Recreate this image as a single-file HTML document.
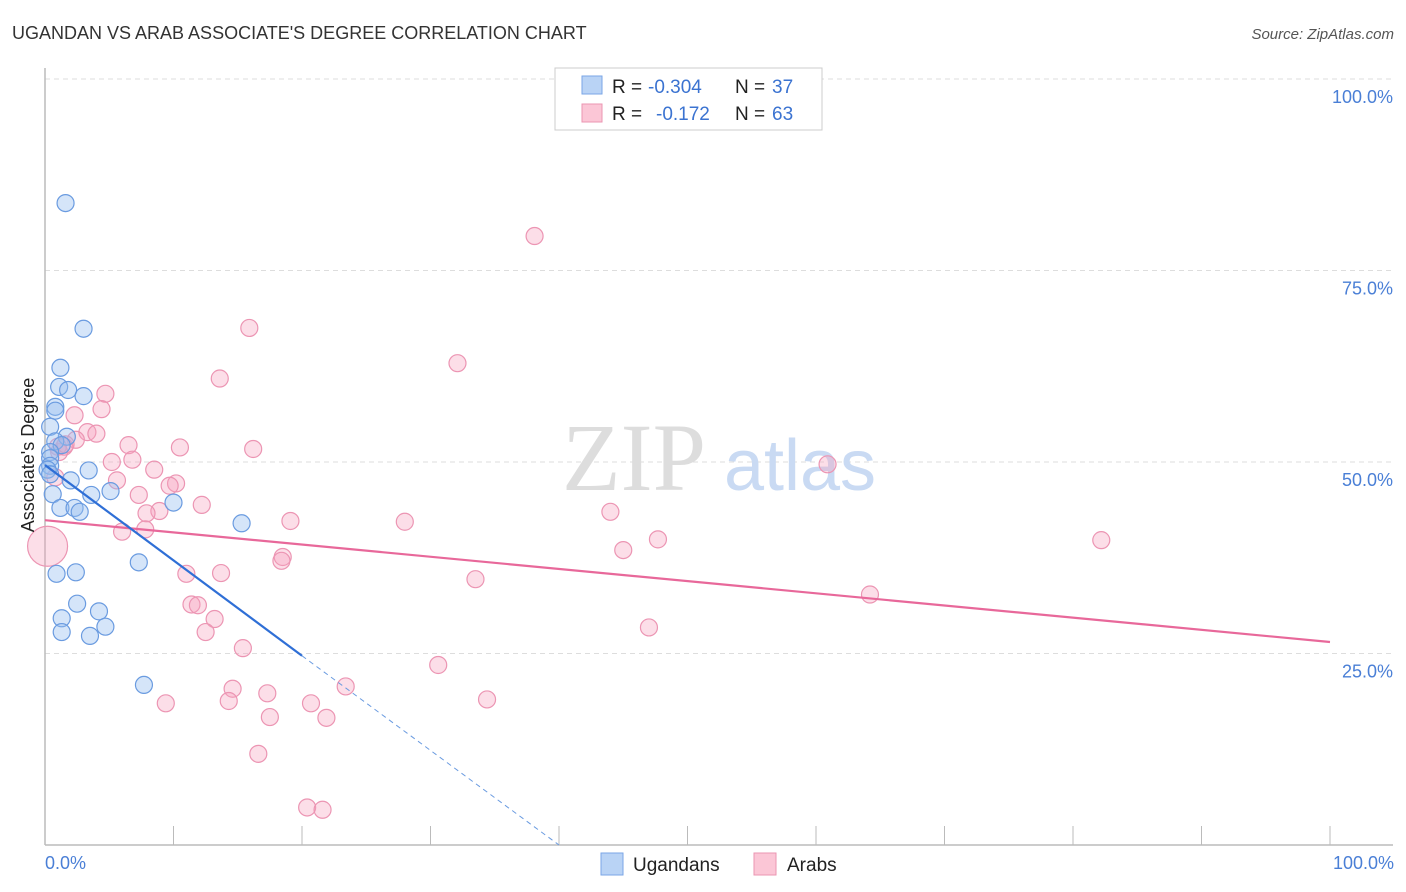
<!DOCTYPE html>
<html><head><meta charset="utf-8"><style>
body{margin:0;background:#fff;font-family:"Liberation Sans",sans-serif;}
svg{display:block}
</style></head><body>
<svg id="chart" width="1406" height="892">
<text x="12" y="39" font-size="18" fill="#333">UGANDAN VS ARAB ASSOCIATE'S DEGREE CORRELATION CHART</text>
<text x="1394" y="39" font-size="15" fill="#555" text-anchor="end" font-style="italic">Source: ZipAtlas.com</text>
<g id="grid"></g>
<text x="634" y="490" font-size="96" fill="#ddd" font-family="Liberation Serif,serif" text-anchor="middle">ZIP</text>
<text x="800" y="490" font-size="72" fill="#c9daf3" text-anchor="middle">atlas</text>
<g id="pts"></g>
<g id="lines"></g>
<text transform="translate(34,455) rotate(-90)" font-size="18" fill="#222" text-anchor="middle">Associate's Degree</text>
<text x="45" y="869" font-size="18" fill="#4a7fd6">0.0%</text>
<text x="1394" y="869" font-size="18" fill="#4a7fd6" text-anchor="end">100.0%</text>
<g>
<rect x="555" y="68" width="267" height="62" fill="#fff" stroke="#ccc"/>
<rect x="582" y="76" width="20" height="18" fill="#b9d3f5" stroke="#7aa6e6"/>
<rect x="582" y="104" width="20" height="18" fill="#fbc6d6" stroke="#eb95b2"/>
<text x="612" y="93" font-size="19" fill="#222">R =</text>
<text x="648" y="93" font-size="19" fill="#3b73d1">-0.304</text>
<text x="735" y="93" font-size="19" fill="#222">N =</text>
<text x="772" y="93" font-size="19" fill="#3b73d1">37</text>
<text x="612" y="120" font-size="19" fill="#222">R =</text>
<text x="656" y="120" font-size="19" fill="#3b73d1">-0.172</text>
<text x="735" y="120" font-size="19" fill="#222">N =</text>
<text x="772" y="120" font-size="19" fill="#3b73d1">63</text>
</g>
<g>
<rect x="601" y="853" width="22" height="22" fill="#b9d3f5" stroke="#7aa6e6"/>
<text x="633" y="871" font-size="19" fill="#222">Ugandans</text>
<rect x="754" y="853" width="22" height="22" fill="#fbc6d6" stroke="#eb95b2"/>
<text x="787" y="871" font-size="19" fill="#222">Arabs</text>
</g>
</svg>
<script>
const yTicks=[25,50,75,100];
const yTickLabels=["25.0%","50.0%","75.0%","100.0%"];
const ugX=[1.6,3.0,1.2,1.1,1.8,3.0,0.8,0.8,0.4,1.7,0.8,1.3,0.4,0.4,0.4,3.4,2.0,0.6,3.6,5.1,1.2,2.3,2.7,10.0,15.3,7.3,0.9,2.4,2.5,1.3,4.2,1.3,3.5,4.7,7.7,0.2,0.4];
const ugY=[83.8,67.4,62.3,59.8,59.4,58.6,57.2,56.7,54.6,53.3,52.7,52.2,51.3,50.5,49.5,48.9,47.6,45.8,45.7,46.2,44.0,44.0,43.5,44.7,42.0,36.9,35.4,35.6,31.5,29.6,30.5,27.8,27.3,28.5,20.9,49.0,48.4];
const arX=[38.1,15.9,32.1,13.6,4.7,4.4,2.3,3.3,4.0,2.4,1.5,1.1,6.5,10.5,16.2,5.2,6.8,8.5,10.2,9.7,5.6,7.3,12.2,8.9,7.9,7.8,6.0,19.1,28.0,44.0,60.9,82.2,47.7,45.0,18.5,18.4,11.0,13.7,33.5,64.2,11.4,11.9,13.2,12.5,47.0,15.4,30.6,23.4,14.6,17.3,9.4,14.3,20.7,34.4,17.5,21.9,16.6,20.4,21.6,1.0,1.6,0.2,0.8];
const arY=[79.5,67.5,62.9,60.9,58.9,56.9,56.1,53.9,53.7,52.9,52.0,51.3,52.2,51.9,51.7,50.0,50.3,49.0,47.2,46.9,47.6,45.7,44.4,43.6,43.3,41.2,40.9,42.3,42.2,43.5,49.7,39.8,39.9,38.5,37.6,37.1,35.4,35.5,34.7,32.7,31.4,31.3,29.5,27.8,28.4,25.7,23.5,20.7,20.4,19.8,18.5,18.8,18.5,19.0,16.7,16.6,11.9,4.9,4.6,52.0,52.3,39.0,48.0];
const ugLine=[[0,49.6],[20,24.7]], ugDash=[[20,24.7],[40,0]];
const arLine=[[0,42.4],[100,26.5]];
const NS="http://www.w3.org/2000/svg";
const X=v=>45+v*12.85, Y=v=>845-v*7.66;
function mk(t,a,p){const e=document.createElementNS(NS,t);for(const k in a)e.setAttribute(k,a[k]);p.appendChild(e);return e;}
const grid=document.getElementById('grid');
yTicks.forEach((t,i)=>{
 const l=mk('line',{x1:45,x2:1393,y1:Y(t),y2:Y(t),stroke:'#ddd','stroke-dasharray':'5,4'},grid);
 
 
 const tx=mk('text',{x:1393,y:Y(t)+24,'font-size':18,fill:'#4a7fd6','text-anchor':'end'},grid);
 tx.textContent=yTickLabels[i];
 
 
});
const ax=mk('line',{x1:45,x2:45,y1:68,y2:845,stroke:'#bbb','stroke-width':1.5},grid);


const bx=mk('line',{x1:45,x2:1393,y1:845,y2:845,stroke:'#bbb','stroke-width':1.5},grid);


for(let i=0;i<=10;i++){const t=mk('line',{x1:X(i*10),x2:X(i*10),y1:826,y2:845,stroke:'#bbb'},grid);
 
 }
const pts=document.getElementById('pts');
arX.forEach((x,i)=>{const c=mk('circle',{cx:X(x),cy:Y(arY[i]),r:i==61?20:8.5,fill:'rgba(246,160,190,0.35)',stroke:'#ec95b3','stroke-width':1.2},pts);
 
 });
ugX.forEach((x,i)=>{const c=mk('circle',{cx:X(x),cy:Y(ugY[i]),r:8.5,fill:'rgba(150,190,240,0.4)',stroke:'#6a9be0','stroke-width':1.2},pts);
 
 });
const lines=document.getElementById('lines');
const a=mk('line',{x1:X(arLine[0][0]),y1:Y(arLine[0][1]),x2:X(arLine[1][0]),y2:Y(arLine[1][1]),stroke:'#e8689a','stroke-width':2.2},lines);


const u=mk('line',{x1:X(ugLine[0][0]),y1:Y(ugLine[0][1]),x2:X(ugLine[1][0]),y2:Y(ugLine[1][1]),stroke:'#2f6fd6','stroke-width':2.2},lines);


const d=mk('line',{x1:X(ugDash[0][0]),y1:Y(ugDash[0][1]),x2:X(ugDash[1][0]),y2:Y(ugDash[1][1]),stroke:'#6a9be0','stroke-width':1,'stroke-dasharray':'5,4'},lines);


</script>
</body></html>
